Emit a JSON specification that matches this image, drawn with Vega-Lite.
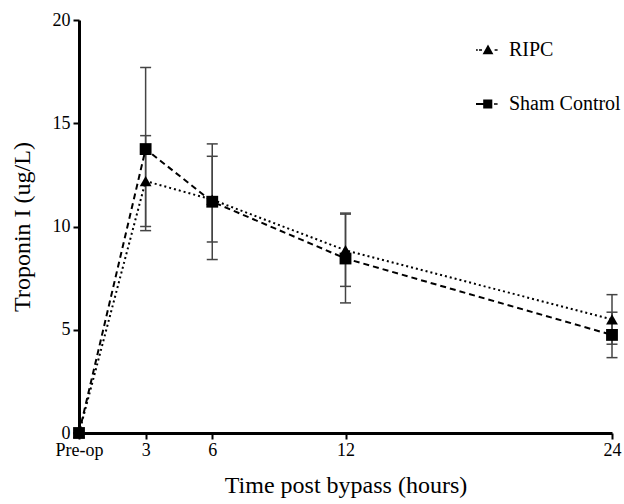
{
  "$schema": "https://vega.github.io/schema/vega-lite/v6.json",
  "width": 533,
  "height": 413,
  "autosize": {"type": "none"},
  "padding": {"left": 79, "top": 20, "right": 12, "bottom": 71},
  "background": "white",
  "config": {
    "view": {"stroke": null},
    "font": "Liberation Serif",
    "axis": {"labelFont": "Liberation Serif", "titleFont": "Liberation Serif", "labelColor": "black", "titleColor": "#000000", "domainColor": "black", "tickColor": "black", "grid": false, "titleFontWeight": "normal", "domainWidth": 3, "tickWidth": 2, "tickSize": 6},
    "legend": {"labelFont": "Liberation Serif", "labelColor": "black"}
  },
  "data": {
    "values": [
      {"group": "RIPC", "time": 0, "mean": 0, "lo": 0, "hi": 0},
      {"group": "RIPC", "time": 3, "mean": 12.2, "lo": 10.0, "hi": 14.4},
      {"group": "RIPC", "time": 6, "mean": 11.3, "lo": 9.25, "hi": 13.4},
      {"group": "RIPC", "time": 12, "mean": 8.85, "lo": 7.1, "hi": 10.6},
      {"group": "RIPC", "time": 24, "mean": 5.5, "lo": 4.3, "hi": 6.7},
      {"group": "Sham Control", "time": 0, "mean": 0, "lo": 0, "hi": 0},
      {"group": "Sham Control", "time": 3, "mean": 13.75, "lo": 9.8, "hi": 17.7},
      {"group": "Sham Control", "time": 6, "mean": 11.2, "lo": 8.4, "hi": 14.0},
      {"group": "Sham Control", "time": 12, "mean": 8.45, "lo": 6.3, "hi": 10.65},
      {"group": "Sham Control", "time": 24, "mean": 4.75, "lo": 3.65, "hi": 5.85}
    ]
  },
  "encoding": {
    "x": {
      "field": "time", "type": "quantitative",
      "scale": {"domain": [0, 24], "nice": false, "zero": false},
      "axis": {
        "title": "Time post bypass (hours)", "titleFontSize": 24, "titlePadding": 14,
        "values": [0, 3, 6, 12, 24],
        "labelExpr": "datum.value === 0 ? 'Pre-op' : datum.label",
        "labelFontSize": 18, "labelPadding": 2, "labelFlush": false, "labelOverlap": false
      }
    }
  },
  "resolve": {"scale": {"shape": "independent"}},
  "layer": [
    {
      "mark": {"type": "rule", "strokeWidth": 1.5, "color": "#444"},
      "encoding": {
        "y": {
          "field": "lo", "type": "quantitative",
          "scale": {"domain": [0, 20], "nice": false},
          "axis": {
            "title": "Troponin I (ug/L)", "titleFontSize": 24, "titlePadding": 18,
            "values": [0, 5, 10, 15, 20], "labelFontSize": 18, "labelPadding": 3
          }
        },
        "y2": {"field": "hi"}
      }
    },
    {
      "mark": {"type": "tick", "orient": "horizontal", "size": 11, "thickness": 1.5, "color": "#444", "opacity": 1},
      "encoding": {"y": {"field": "lo", "type": "quantitative"}}
    },
    {
      "mark": {"type": "tick", "orient": "horizontal", "size": 11, "thickness": 1.5, "color": "#444", "opacity": 1},
      "encoding": {"y": {"field": "hi", "type": "quantitative"}}
    },
    {
      "transform": [{"filter": "datum.group === 'RIPC'"}],
      "mark": {"type": "line", "strokeWidth": 2, "color": "black", "strokeDash": [2, 3]},
      "encoding": {"y": {"field": "mean", "type": "quantitative"}}
    },
    {
      "transform": [{"filter": "datum.group === 'Sham Control'"}],
      "mark": {"type": "line", "strokeWidth": 2, "color": "black", "strokeDash": [6, 4]},
      "encoding": {"y": {"field": "mean", "type": "quantitative"}}
    },
    {
      "mark": {"type": "point", "filled": true, "opacity": 1, "color": "black", "size": 140, "clip": false},
      "encoding": {
        "y": {"field": "mean", "type": "quantitative"},
        "shape": {
          "field": "group", "type": "nominal",
          "scale": {"domain": ["RIPC", "Sham Control"], "range": ["triangle-up", "square"]},
          "legend": null
        }
      }
    },
    {
      "mark": {"type": "point", "filled": true, "opacity": 0, "color": "black", "size": 576},
      "encoding": {
        "y": {"field": "mean", "type": "quantitative"},
        "shape": {
          "field": "group", "type": "nominal",
          "scale": {
            "domain": ["RIPC", "Sham Control"],
            "range": [
              "M-1,-0.07h0.15v0.14h-0.15z M-0.75,-0.07h0.25v0.14h-0.25z M-0.45,0.35L0,-0.45L0.45,0.35z M0.55,-0.07h0.25v0.14h-0.25z",
              "M-1,-0.08h0.6v0.16h-0.6z M-0.4,-0.38h0.76v0.76h-0.76z M0.5,-0.07h0.3v0.14h-0.3z"
            ]
          },
          "legend": {
            "title": null, "orient": "none", "legendX": 397, "legendY": 18,
            "labelFontSize": 20, "labelOffset": 9,
            "symbolSize": 576, "rowPadding": 32,
            "symbolFillColor": "black", "symbolStrokeColor": "black", "symbolStrokeWidth": 0, "symbolOpacity": 1
          }
        }
      }
    }
  ]
}
